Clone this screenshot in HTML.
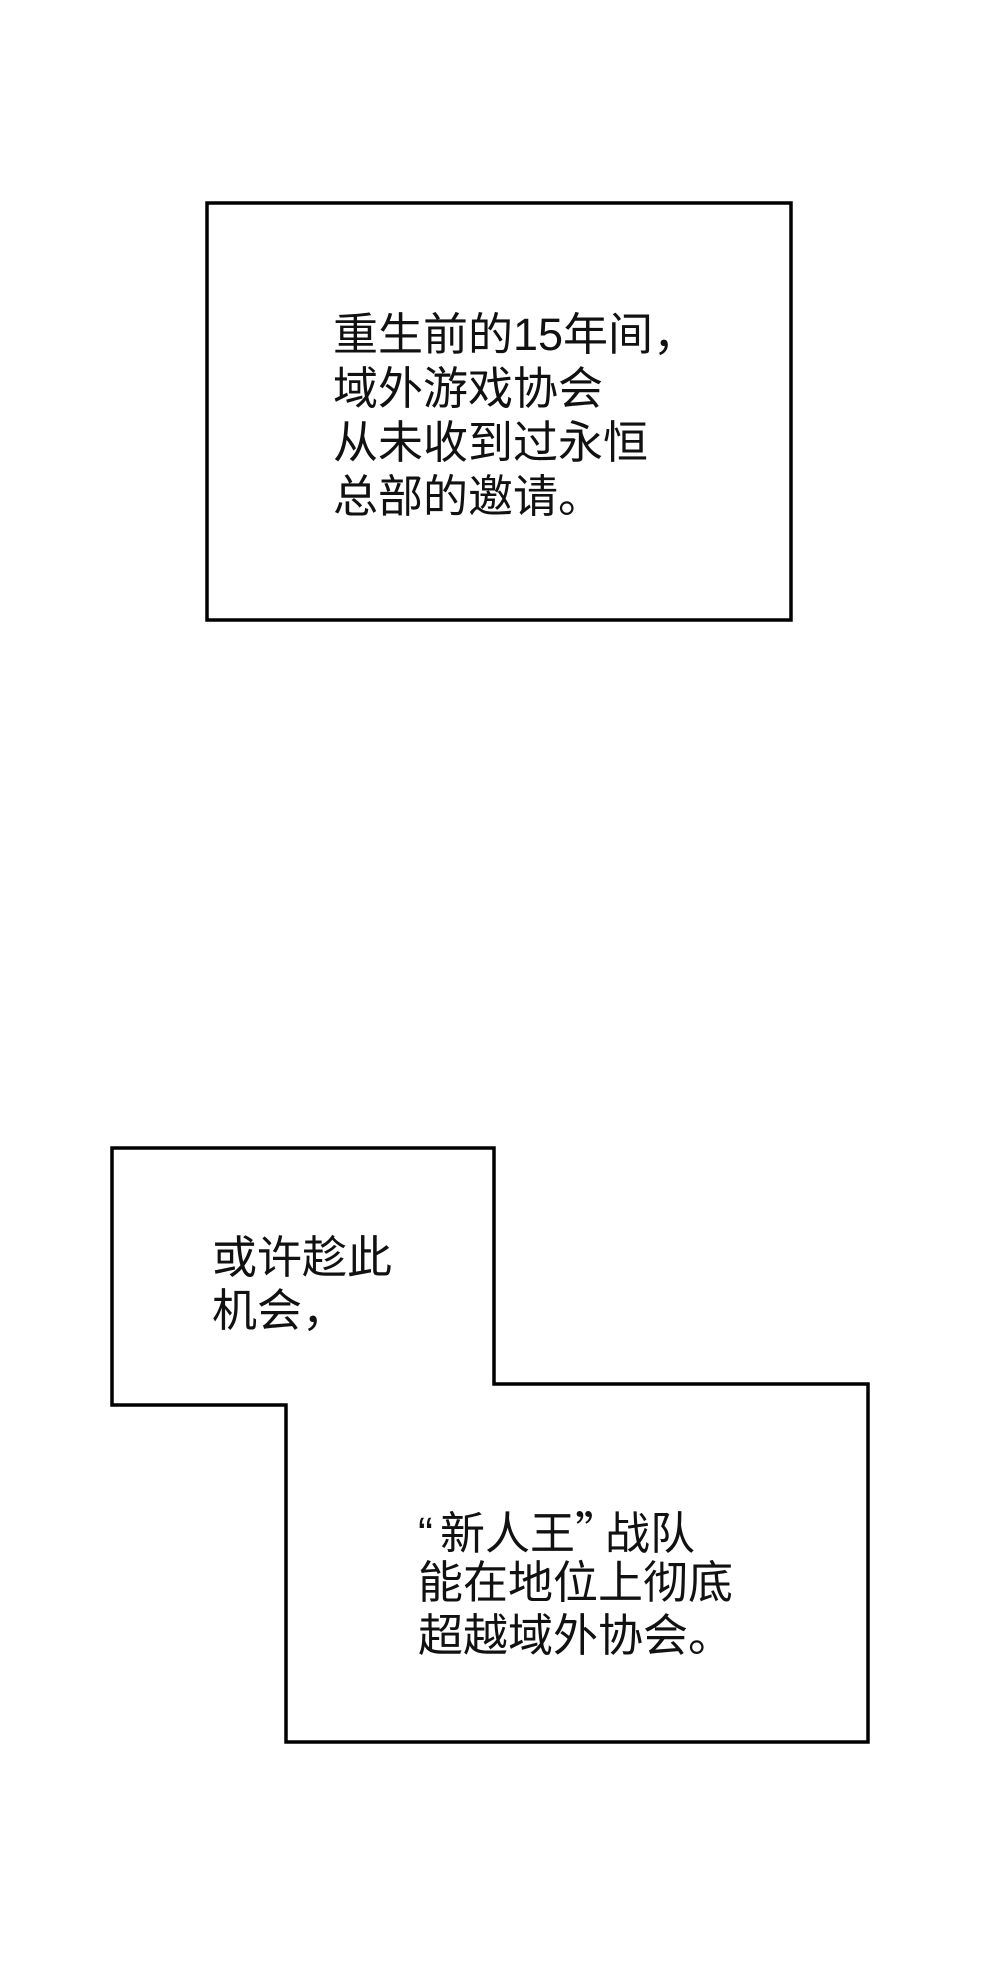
<!DOCTYPE html>
<html><head><meta charset="utf-8"><style>
html,body{margin:0;padding:0;background:#fff;}
body{width:1000px;height:1973px;position:relative;overflow:hidden;font-family:"Liberation Sans","Noto Sans CJK SC",sans-serif;color:#111;}
.t{position:absolute;font-size:45px;white-space:nowrap;}
.t div{height:54px;line-height:54px;}
.t2 div{height:53px;line-height:53px;}
.q{font-family:"Noto Sans CJK SC",sans-serif;display:inline-block;width:30px;}
.ql{font-family:"Liberation Sans",sans-serif;display:inline-block;width:22px;text-align:left;}
</style></head><body>
<svg width="1000" height="1973" style="position:absolute;left:0;top:0">
<rect x="207" y="203" width="584" height="417" fill="none" stroke="#000" stroke-width="3.5"/>
<polygon points="112,1148 494,1148 494,1384 868,1384 868,1742 286,1742 286,1405 112,1405" fill="none" stroke="#000" stroke-width="3.5"/>
</svg>
<div class="t" style="left:333px;top:308px"><div>重生前的15年间，</div><div>域外游戏协会</div><div>从未收到过永恒</div><div>总部的邀请。</div></div>
<div class="t t2" style="left:212px;top:1231px"><div>或许趁此</div><div>机会，</div></div>
<div class="t t2" style="left:418px;top:1503px"><div><span class="ql">“</span>新人王<span class="q">”</span>战队</div><div>能在地位上彻底</div><div>超越域外协会。</div></div>
</body></html>
